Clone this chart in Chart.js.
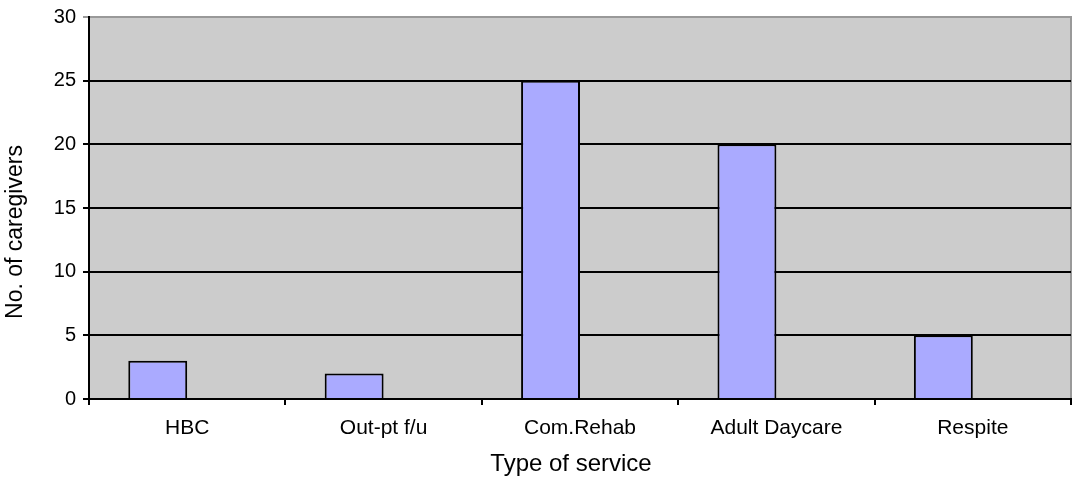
<!DOCTYPE html>
<html>
<head>
<meta charset="utf-8">
<script src="https://cdn.jsdelivr.net/npm/chart.js@4/dist/chart.umd.min.js"></script>
<style>
  html, body { margin: 0; padding: 0; background: #fff; }
  #wrap { width: 1072px; height: 479px; position: relative; }
</style>
</head>
<body>
<div id="wrap"><canvas id="chart"></canvas></div>
<script>
// data
const services = ['HBC', 'Out-pt f/u', 'Com.Rehab', 'Adult Daycare', 'Respite'];
const caregivers = [3, 2, 25, 20, 5];
const emptySeries = [null, null, null, null, null];
const yTicks = [0, 5, 10, 15, 20, 25, 30];
const xTitle = 'Type of service';
const yTitle = 'No. of caregivers';

const FONT = "'Liberation Sans', Arial, sans-serif";

// grey plot background + grey top/right frame
const plotBg = {
    id: 'plotBg',
    beforeDraw(chart) {
        const { ctx, chartArea: a } = chart;
        ctx.save();
        ctx.fillStyle = '#cccccc';
        ctx.fillRect(a.left, a.top, a.right - a.left, a.bottom - a.top);
        ctx.strokeStyle = '#999999';
        ctx.lineWidth = 2;
        ctx.beginPath();
        ctx.moveTo(a.left, a.top);
        ctx.lineTo(a.right, a.top);
        ctx.lineTo(a.right, a.bottom);
        ctx.stroke();
        ctx.restore();
    }
};

// axis titles, placed like the original (slightly off-centre)
const axisTitles = {
    id: 'axisTitles',
    afterDraw(chart) {
        const { ctx, chartArea: a } = chart;
        ctx.save();
        ctx.fillStyle = '#000';
        ctx.textAlign = 'center';
        ctx.textBaseline = 'middle';
        ctx.font = '24px ' + FONT;
        ctx.fillText(xTitle, (a.left + a.right) / 2 - 9, 464);
        ctx.font = '23px ' + FONT;
        ctx.translate(16, (a.top + a.bottom) / 2 + 24);
        ctx.rotate(-Math.PI / 2);
        ctx.fillText(yTitle, 0, 0);
        ctx.restore();
    }
};

new Chart(document.getElementById('chart'), {
    type: 'bar',
    data: {
        labels: services,
        datasets: [
            { data: caregivers, backgroundColor: '#aaaaff', borderColor: '#000', borderWidth: 2, borderSkipped: 'bottom' },
            { data: emptySeries, backgroundColor: '#aaaaff' }
        ]
    },
    options: {
        responsive: true,
        maintainAspectRatio: false,
        animation: false,
        categoryPercentage: 0.6,
        barPercentage: 1,
        layout: { padding: { top: 15, right: 1, left: 0, bottom: 0 } },
        plugins: { legend: { display: false }, tooltip: { enabled: false } },
        scales: {
            x: {
                grid: { drawOnChartArea: false, drawTicks: true, tickLength: 6, color: '#000', lineWidth: 2, offset: true },
                border: { color: '#000', width: 2 },
                ticks: { color: '#000', font: { family: FONT, size: 21 }, padding: 11 },
                afterFit: s => { s.height = 80; }
            },
            y: {
                min: 0, max: 30,
                afterBuildTicks: s => { s.ticks = yTicks.map(v => ({ value: v })); },
                grid: {
                    color: c => (c.tick && c.tick.value === 30) ? '#999999' : '#000',
                    lineWidth: 2, tickLength: 6
                },
                border: { color: '#000', width: 2 },
                ticks: { color: '#000', font: { family: FONT, size: 20, lineHeight: 1 }, padding: 7 },
                afterFit: s => { s.width = 89; }
            }
        }
    },
    plugins: [plotBg, axisTitles]
});
</script>
</body>
</html>
